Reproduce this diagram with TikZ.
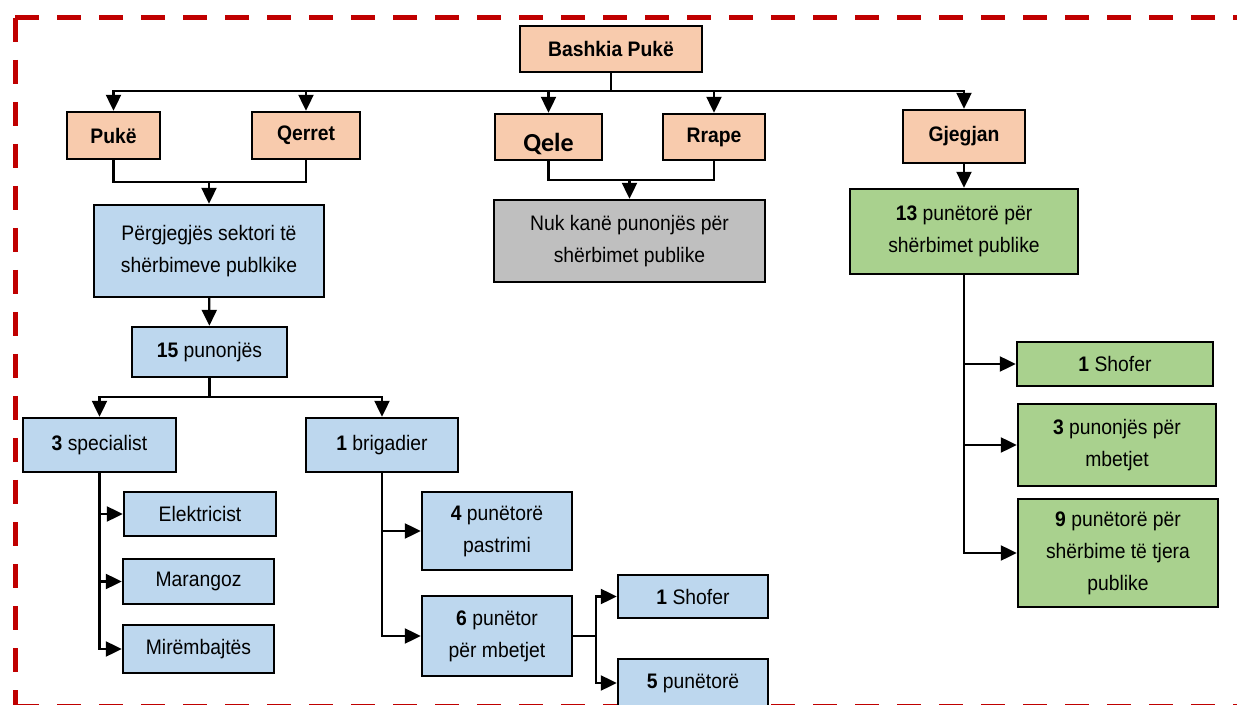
\documentclass[tikz,border=0pt]{standalone}
\usepackage{fontspec}
\setmainfont[FakeStretch=0.92]{Liberation Sans}
\newfontfamily\qelefont{Carlito}
\usetikzlibrary{arrows.meta}
\definecolor{peach}{HTML}{F8CBAD}
\definecolor{lightblue}{HTML}{BDD7EE}
\definecolor{midgrey}{HTML}{BFBFBF}
\definecolor{lightgreen}{HTML}{A9D18E}
\definecolor{darkred}{HTML}{C00000}
\begin{document}
\begin{tikzpicture}[x=0.5pt,y=-0.5pt,
  box/.style={draw,line width=1.2pt,inner sep=2pt,align=center,
    font=\fontsize{10.5}{16}\selectfont},
  orange/.style={box,fill=peach,font=\fontsize{10.5}{16}\selectfont\bfseries},
  blue/.style={box,fill=lightblue},
  grey/.style={box,fill=midgrey},
  green/.style={box,fill=lightgreen},
  line/.style={line width=1.1pt},
  arr/.style={line,-{Triangle[length=8pt,width=7.5pt]}},
  border/.style={draw=darkred,line width=2.5pt,dash pattern=on 12pt off 9pt}]
\useasboundingbox (0,0) rectangle (1237,705);

% frame
\draw[border] (15,18) -- (1260,18);
\draw[border] (15,18) -- (15,720);
\draw[border] (15,706.5) -- (1260,706.5);

% top level
\node[orange,minimum width=91pt,minimum height=23pt] (bashkia) at (611,49) {Bashkia Pukë};
\node[orange,minimum width=46.5pt,minimum height=23.5pt] (puke) at (113.5,135.5) {Pukë};
\node[orange,minimum width=54pt,minimum height=23.5pt] (qerret) at (306,135.5) {Qerret};
\node[orange,minimum width=53.5pt,minimum height=23pt,text height=15pt,text depth=0pt] (qele) at (548.5,137) {\qelefont\fontsize{13}{15}\selectfont Qele};
\node[orange,minimum width=51pt,minimum height=23pt] (rrape) at (714,137) {Rrape};
\node[orange,minimum width=61pt,minimum height=26.5pt] (gjegjan) at (964,136.5) {Gjegjan};

\coordinate (top) at (611,91);
\draw[line] (bashkia) -- (top);
\foreach \n in {puke,qerret,qele,rrape,gjegjan}
  \draw[arr] (top) -| (\n);

% second level
\node[blue,minimum width=115pt,minimum height=46pt] (sektori) at (209,251) {Përgjegjës sektori të\\shërbimeve publkike};
\node[grey,minimum width=135.5pt,minimum height=41pt] (nuk) at (629.5,241) {Nuk kanë punonjës për\\shërbimet publike};
\node[green,minimum width=114pt,minimum height=42.5pt] (pun13) at (964,231.5) {\textbf{13} punëtorë për\\shërbimet publike};

\coordinate (pq) at (209,182);
\draw[line] (puke) |- (pq) -| (qerret);
\draw[arr] (pq) -- (sektori);
\coordinate (qr) at (629.5,180);
\draw[line] (qele) |- (qr) -| (rrape);
\draw[arr] (qr) -- (nuk);
\draw[arr] (gjegjan) -- (pun13);

% Puke branch
\node[blue,minimum width=77.5pt,minimum height=25pt] (pun15) at (209.5,352) {\textbf{15} punonjës};
\draw[arr] (sektori) -- (pun15);

\node[blue,minimum width=76.5pt,minimum height=27pt] (spec) at (99.5,445) {\textbf{3} specialist};
\node[blue,minimum width=76pt,minimum height=27pt] (brig) at (382,445) {\textbf{1} brigadier};
\coordinate (pb) at (209.5,397);
\draw[line] (pun15) -- (pb);
\draw[arr] (pb) -| (spec);
\draw[arr] (pb) -| (brig);

\node[blue,minimum width=76pt,minimum height=22pt] (elek) at (200,514) {Elektricist};
\node[blue,minimum width=75.5pt,minimum height=22.5pt] (maran) at (198.5,581.5) {Marangoz};
\node[blue,minimum width=75.5pt,minimum height=24pt] (mirem) at (198.5,649) {Mirëmbajtës};
\foreach \n in {elek,maran,mirem}
  \draw[arr] (spec.south) |- (\n.west);

\node[blue,minimum width=75pt,minimum height=39pt] (pastr) at (497,531) {\textbf{4} punëtorë\\pastrimi};
\node[blue,minimum width=75pt,minimum height=40pt] (mbet6) at (497,636) {\textbf{6} punëtor\\për mbetjet};
\foreach \n in {pastr,mbet6}
  \draw[arr] (brig.south) |- (\n.west);

\node[blue,minimum width=75pt,minimum height=21.5pt] (shof1) at (693,596.5) {\textbf{1} Shofer};
\node[blue,minimum width=75pt,minimum height=24pt] (pun5) at (693,683) {\textbf{5} punëtorë};
\coordinate (mb) at (596,636);
\draw[line] (mbet6.east) -- (mb);
\draw[arr] (mb) |- (shof1.west);
\draw[arr] (mb) |- (pun5.west);

% Gjegjan branch
\node[green,minimum width=98pt,minimum height=22pt] (gshof) at (1115,364) {\textbf{1} Shofer};
\node[green,minimum width=99pt,minimum height=41pt] (gmbet) at (1117,445) {\textbf{3} punonjës për\\mbetjet};
\node[green,minimum width=100pt,minimum height=54pt] (gpun9) at (1118,553) {\textbf{9} punëtorë për\\shërbime të tjera\\publike};
\foreach \n in {gshof,gmbet,gpun9}
  \draw[arr] (pun13.south) |- (\n.west);
\end{tikzpicture}
\end{document}
